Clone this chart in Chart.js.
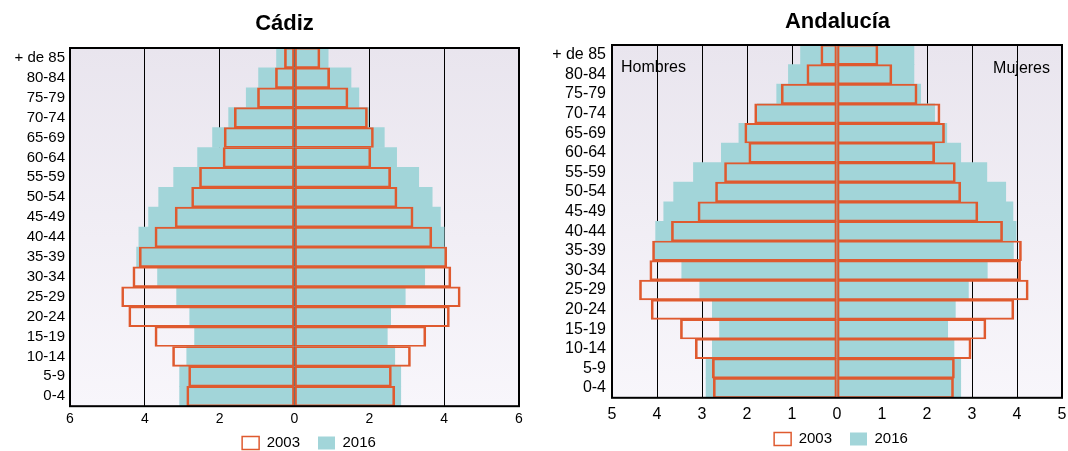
<!DOCTYPE html>
<html>
<head>
<meta charset="utf-8">
<script src="https://cdn.jsdelivr.net/npm/chart.js@4/dist/chart.umd.min.js"></script>
<style>
  body { margin: 0; background: #fff; }
  .box { position: absolute; top: 0; width: 534px; height: 451px; }
</style>
</head>
<body>
<div class="box" style="left:0"><canvas id="cadiz"></canvas></div>
<div class="box" style="left:534px"><canvas id="andalucia"></canvas></div>
<script>
// age groups, top to bottom
const ages = ["+ de 85", "80-84", "75-79", "70-74", "65-69", "60-64", "55-59", "50-54", "45-49",
  "40-44", "35-39", "30-34", "25-29", "20-24", "15-19", "10-14", "5-9", "0-4"];

// Cádiz, % of population
const cadizMen2003 = [0.27, 0.51, 0.99, 1.61, 1.88, 1.91, 2.54, 2.75, 3.19, 3.73, 4.15, 4.32, 4.62, 4.43, 3.73, 3.26, 2.83, 2.88];
const cadizWomen2003 = [0.68, 0.94, 1.43, 1.95, 2.11, 2.04, 2.57, 2.74, 3.17, 3.67, 4.07, 4.18, 4.43, 4.14, 3.51, 3.10, 2.59, 2.68];
const cadizMen2016 = [0.48, 0.96, 1.29, 1.76, 2.19, 2.59, 3.23, 3.63, 3.90, 4.16, 4.22, 3.66, 3.15, 2.80, 2.67, 2.88, 3.07, 3.07];
const cadizWomen2016 = [0.90, 1.51, 1.72, 1.98, 2.40, 2.73, 3.32, 3.68, 3.90, 4.00, 4.05, 3.48, 2.96, 2.57, 2.48, 2.68, 2.84, 2.84];

// Andalucía, % of population
const andMen2003 = [0.36, 0.67, 1.24, 1.83, 2.05, 1.96, 2.50, 2.70, 3.09, 3.68, 4.10, 4.16, 4.39, 4.13, 3.48, 3.15, 2.77, 2.75];
const andWomen2003 = [0.91, 1.22, 1.78, 2.29, 2.39, 2.17, 2.63, 2.75, 3.13, 3.68, 4.10, 4.08, 4.25, 3.93, 3.31, 2.98, 2.61, 2.59];
const andMen2016 = [0.81, 1.08, 1.34, 1.77, 2.18, 2.57, 3.19, 3.63, 3.85, 4.03, 4.06, 3.45, 3.05, 2.77, 2.61, 2.77, 2.91, 2.91];
const andWomen2016 = [1.71, 1.71, 1.86, 2.17, 2.44, 2.75, 3.33, 3.75, 3.91, 3.98, 3.92, 3.34, 2.92, 2.63, 2.46, 2.60, 2.75, 2.75];

const RED = "#df5a2f";
const TEAL = "#a2d5d9";
const FONT = "'Liberation Sans', Arial, sans-serif";

// lavender gradient behind the plot, black frame on top, title/legend nudged
const frame = {
  id: "frame",
  afterLayout(chart, args, opts) {
    const t = chart.titleBlock, l = chart.legend;
    t.left += opts.titleDx; t.right += opts.titleDx;
    l.left += opts.legendDx; l.right += opts.legendDx;
    l.top = opts.legendTop; l.bottom = chart.height;
  },
  beforeDraw(chart) {
    const a = chart.chartArea, ctx = chart.ctx;
    const g = ctx.createLinearGradient(0, a.top, 0, a.bottom);
    g.addColorStop(0, "#e9e5ee");
    g.addColorStop(1, "#f8f6fb");
    ctx.save();
    ctx.fillStyle = g;
    ctx.fillRect(a.left, a.top, a.right - a.left, a.bottom - a.top);
    ctx.restore();
  },
  afterDatasetsDraw(chart, args, opts) {
    const a = chart.chartArea, ctx = chart.ctx;
    ctx.save();
    ctx.strokeStyle = "#000";
    ctx.lineWidth = 2;
    ctx.strokeRect(a.left, a.top, a.right - a.left, a.bottom - a.top);
    if (opts.sides) {
      ctx.fillStyle = "#000";
      ctx.font = "16px " + FONT;
      ctx.textBaseline = "middle";
      ctx.textAlign = "left";
      ctx.fillText("Hombres", a.left + 9, a.top + 23);
      ctx.textAlign = "right";
      ctx.fillText("Mujeres", a.right - 12, a.top + 24);
    }
    ctx.restore();
  }
};

function pyramid(id, title, men03, women03, men16, women16, cfg) {
  const neg = arr => arr.map(v => -v);
  new Chart(document.getElementById(id), {
    type: "bar",
    plugins: [frame],
    data: {
      labels: ages,
      datasets: [
        { label: "2003", data: neg(men03), backgroundColor: "rgba(0,0,0,0)", borderColor: RED,
          borderWidth: { left: 2, right: 1.5, top: 1.25, bottom: 1.25 }, borderSkipped: false },
        { label: "2003 m", data: women03, backgroundColor: "rgba(0,0,0,0)", borderColor: RED,
          borderWidth: { left: 1.5, right: 2, top: 1.25, bottom: 1.25 }, borderSkipped: false },
        { label: "2016", data: neg(men16), backgroundColor: TEAL, borderWidth: 0 },
        { label: "2016 m", data: women16, backgroundColor: TEAL, borderWidth: 0 }
      ]
    },
    options: {
      indexAxis: "y",
      responsive: true,
      maintainAspectRatio: false,
      animation: false,
      grouped: false,
      barPercentage: 1,
      categoryPercentage: 1,
      layout: { padding: { left: 0, right: cfg.right, bottom: 0 } },
      scales: {
        x: {
          min: -cfg.max, max: cfg.max,
          afterFit(s) { s.paddingLeft = 0; s.paddingRight = 0; },
          ticks: { stepSize: cfg.step, color: "#000", padding: cfg.tickPad,
            font: { family: FONT, size: cfg.tick }, callback: v => Math.abs(v) },
          grid: { color: "#000", lineWidth: 1, drawTicks: false },
          border: { display: false }
        },
        y: {
          afterFit(s) { s.width = cfg.left; },
          ticks: { color: "#000", padding: cfg.labelPad, autoSkip: false,
            font: { family: FONT, size: cfg.label } },
          grid: { display: false, drawTicks: false },
          border: { display: false }
        }
      },
      plugins: {
        frame: { sides: cfg.sides, titleDx: cfg.titleDx, legendDx: cfg.legendDx, legendTop: cfg.legendTop },
        tooltip: { enabled: false },
        title: {
          display: true, text: title, color: "#000",
          font: { family: FONT, size: 22, weight: "bold" },
          padding: { top: cfg.titleTop, bottom: cfg.titleBottom }
        },
        legend: {
          position: "bottom",
          maxHeight: cfg.legendHeight,
          labels: {
            filter: item => item.datasetIndex % 2 === 0,
            color: "#000", boxWidth: 17, boxHeight: 13, padding: 18,
            font: { family: FONT, size: 15 }
          }
        }
      }
    }
  });
}

pyramid("cadiz", "Cádiz", cadizMen2003, cadizWomen2003, cadizMen2016, cadizWomen2016,
  { max: 6, step: 2, left: 70, right: 15, tick: 14, tickPad: 5, label: 15, labelPad: 5,
    titleTop: 10.8, titleBottom: 10.8, titleDx: 25,
    legendHeight: 18, legendTop: 417.5, legendDx: 49.5, sides: false });
pyramid("andalucia", "Andalucía", andMen2003, andWomen2003, andMen2016, andWomen2016,
  { max: 5, step: 1, left: 78, right: 6, tick: 16, tickPad: 7, label: 16, labelPad: 6,
    titleTop: 8.3, titleBottom: 10.3, titleDx: 39.5,
    legendHeight: 20, legendTop: 413.5, legendDx: 43, sides: true });
</script>
</body>
</html>
